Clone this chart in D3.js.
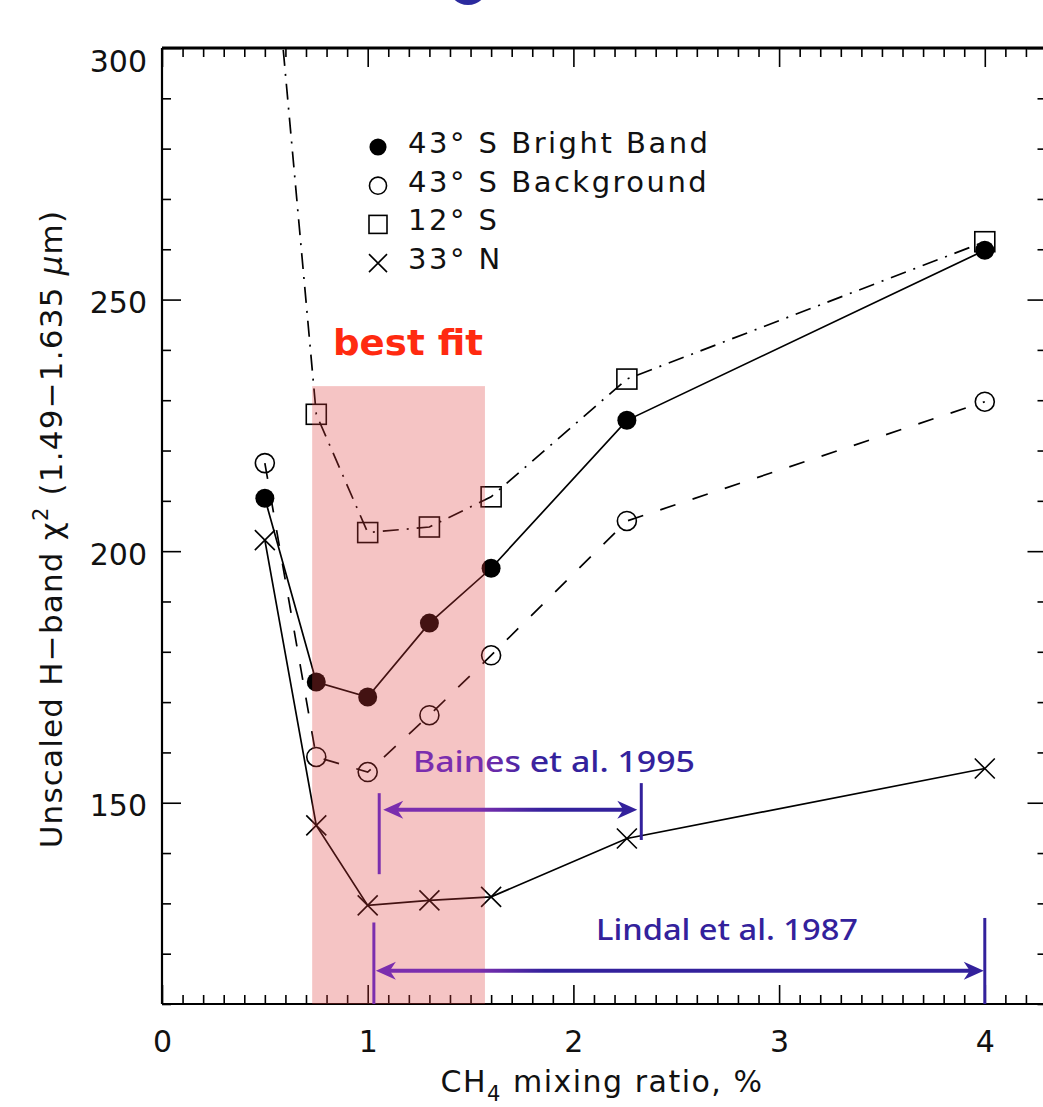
<!DOCTYPE html>
<html>
<head>
<meta charset="utf-8">
<script src="https://cdn.jsdelivr.net/npm/d3@7"></script>
<style>
  body { margin: 0; background: #fff; }
  svg { display: block; }
</style>
</head>
<body>
<div id="chart-container"></div>
<script>
// Values
const mixingRatio = [0.5, 0.75, 1.0, 1.3, 1.6, 2.26, 4.0];
const brightBand  = [210.5, 174.0, 171.0, 185.7, 196.6, 226.0, 259.8];
const background  = [217.5, 159.1, 156.1, 167.4, 179.3, 206.0, 229.7];
const south12     = [340.0, 227.2, 203.7, 204.8, 210.8, 234.2, 261.5];
const north33     = [202.2, 145.5, 129.6, 130.6, 131.3, 142.9, 156.8];

const seriesNames = ["43° S Bright Band", "43° S Background", "12° S", "33° N"];
const xTickLabels = [0, 1, 2, 3, 4];
const yTickLabels = [150, 200, 250, 300];

// best fit band and literature ranges
const bestFitRange = [0.73, 1.57];
const bestFitTop = 232.8;
const bainesRange = [1.056, 2.33];
const bainesArrowY = 148.6;
const bainesBars = [[151.9, 135.8], [153.9, 142.6]];
const lindalRange = [1.03, 4.0];
const lindalArrowY = 116.6;
const lindalBars = [[126.2, 110], [127.1, 110]];

const width = 1043;
const height = 1107;
const plot = { left: 162, right: 1046.5, top: 48, bottom: 1004 };

const svg = d3.select("#chart-container")
    .append("svg")
    .attr("width", width)
    .attr("height", height);

const x = d3.scaleLinear().domain([0, 4.3]).range([plot.left, plot.right]);
const y = d3.scaleLinear().domain([110, 300]).range([plot.bottom, plot.top]);

const tickFont = "DejaVu Sans, Open Sans, sans-serif";

// gradient used by the literature annotations (purple -> blue)
const defs = svg.append("defs");
const grad = defs.append("linearGradient")
    .attr("id", "refGrad")
    .attr("gradientUnits", "userSpaceOnUse")
    .attr("x1", 478).attr("y1", 0).attr("x2", 545).attr("y2", 0);
grad.append("stop").attr("offset", 0).attr("stop-color", "#7b2eae");
grad.append("stop").attr("offset", 1).attr("stop-color", "#33219c");

defs.append("clipPath").attr("id", "plotClip")
    .append("rect")
    .attr("x", plot.left).attr("y", plot.top)
    .attr("width", plot.right - plot.left)
    .attr("height", plot.bottom - plot.top);

// ---- axes (ticks point inward on all four sides) ----
const xMinor = d3.range(0, 44).map(i => i / 10).filter(v => Math.abs(v - Math.round(v)) > 1e-6);
const yMinor = d3.range(110, 301, 10).filter(v => v % 50 !== 0);

function addAxis(axisFn, scale, values, size, transform, withLabels) {
    const g = svg.append("g")
        .attr("transform", transform)
        .call(axisFn(scale)
            .tickValues(values)
            .tickSizeInner(-size)
            .tickSizeOuter(0)
            .tickPadding(axisFn === d3.axisBottom ? 27 : 15)
            .tickFormat(withLabels ? d3.format("d") : () => ""));
    g.select(".domain").remove();
    g.selectAll(".tick line").attr("stroke", "#000").attr("stroke-width", 1.6);
    g.attr("font-family", tickFont).attr("font-size", 30);
    g.selectAll(".tick text").attr("fill", "#111");
    return g;
}

addAxis(d3.axisBottom, x, xTickLabels, 19, `translate(0,${plot.bottom})`, true);
addAxis(d3.axisBottom, x, xMinor, 9, `translate(0,${plot.bottom})`, false);
addAxis(d3.axisTop, x, xTickLabels, 19, `translate(0,${plot.top})`, false);
addAxis(d3.axisTop, x, xMinor, 9, `translate(0,${plot.top})`, false);

const yAxisG = addAxis(d3.axisLeft, y, yTickLabels, 19, `translate(${plot.left},0)`, true);
yAxisG.selectAll(".tick text")
    .attr("dy", d => d === 300 ? "0.78em" : "0.43em");
addAxis(d3.axisLeft, y, yMinor, 9, `translate(${plot.left},0)`, false);
addAxis(d3.axisRight, y, yTickLabels, 19, `translate(${plot.right},0)`, false);
addAxis(d3.axisRight, y, yMinor, 9, `translate(${plot.right},0)`, false);

// frame
svg.append("line").attr("x1", plot.left).attr("x2", plot.right)
    .attr("y1", plot.top).attr("y2", plot.top)
    .attr("stroke", "#000").attr("stroke-width", 3);
svg.append("line").attr("x1", plot.left).attr("x2", plot.right)
    .attr("y1", plot.bottom).attr("y2", plot.bottom)
    .attr("stroke", "#000").attr("stroke-width", 2.2);
svg.append("line").attr("x1", plot.left).attr("x2", plot.left)
    .attr("y1", plot.top).attr("y2", plot.bottom)
    .attr("stroke", "#000").attr("stroke-width", 2.2);

// axis titles
const xTitle = svg.append("text")
    .attr("x", 602).attr("y", 1092)
    .attr("text-anchor", "middle")
    .attr("font-family", tickFont).attr("font-size", 30)
    .attr("letter-spacing", 1.5)
    .attr("fill", "#111");
xTitle.append("tspan").text("CH");
xTitle.append("tspan").attr("font-size", 21).attr("dy", 9).text("4");
xTitle.append("tspan").attr("dy", -9).text(" mixing ratio, %");

const yTitle = svg.append("text")
    .attr("transform", "translate(62,529) rotate(-90)")
    .attr("text-anchor", "middle")
    .attr("font-family", tickFont).attr("font-size", 31)
    .attr("letter-spacing", 1.2)
    .attr("fill", "#111");
yTitle.append("tspan").text("Unscaled H\u2212band \u03C7");
yTitle.append("tspan").attr("font-size", 21).attr("dy", -14).text("2");
yTitle.append("tspan").attr("dy", 14).text(" (1.49\u22121.635 ");
yTitle.append("tspan").attr("font-style", "italic").text("\u03BC");
yTitle.append("tspan").text("m)");

// ---- series ----
const series = [
    { name: seriesNames[0], values: brightBand, dash: null, marker: "filled" },
    { name: seriesNames[1], values: background, dash: "16,18", marker: "open" },
    { name: seriesNames[2], values: south12, dash: "16,8,2,8", marker: "square" },
    { name: seriesNames[3], values: north33, dash: null, marker: "cross" }
];

const line = d3.line()
    .x(d => x(d[0]))
    .y(d => y(d[1]));

const plotG = svg.append("g").attr("clip-path", "url(#plotClip)");

function drawMarker(g, type, cx, cy, s) {
    if (type === "filled") {
        g.append("circle").attr("cx", cx).attr("cy", cy).attr("r", s * 0.95).attr("fill", "#000");
    } else if (type === "open") {
        g.append("circle").attr("cx", cx).attr("cy", cy).attr("r", s * 0.95)
            .attr("fill", "none").attr("stroke", "#000").attr("stroke-width", 1.6);
    } else if (type === "square") {
        g.append("rect").attr("x", cx - s).attr("y", cy - s)
            .attr("width", 2 * s).attr("height", 2 * s)
            .attr("fill", "none").attr("stroke", "#000").attr("stroke-width", 1.6);
    } else {
        const p = d3.path();
        p.moveTo(cx - s, cy - s); p.lineTo(cx + s, cy + s);
        p.moveTo(cx - s, cy + s); p.lineTo(cx + s, cy - s);
        g.append("path").attr("d", p.toString())
            .attr("fill", "none").attr("stroke", "#000").attr("stroke-width", 1.6);
    }
}

series.forEach(s => {
    const pts = mixingRatio.map((m, i) => [m, s.values[i]]);
    plotG.append("path")
        .datum(pts)
        .attr("d", line)
        .attr("fill", "none")
        .attr("stroke", "#000")
        .attr("stroke-width", 1.7)
        .attr("stroke-dasharray", s.dash);
    pts.filter(p => p[1] <= 300).forEach(p => {
        drawMarker(plotG, s.marker, x(p[0]), y(p[1]), 10);
    });
});

// best fit shaded band, laid over the lines (darkens them to red)
svg.append("rect")
    .attr("x", x(bestFitRange[0]))
    .attr("y", y(bestFitTop))
    .attr("width", x(bestFitRange[1]) - x(bestFitRange[0]))
    .attr("height", y(110) - y(bestFitTop))
    .attr("fill", "rgb(222,60,60)")
    .attr("opacity", 0.3);

svg.append("text")
    .attr("x", 333).attr("y", 355)
    .attr("font-family", "DejaVu Sans, sans-serif")
    .attr("font-weight", "bold")
    .attr("font-size", 36)
    .attr("textLength", 150)
    .attr("lengthAdjust", "spacingAndGlyphs")
    .attr("fill", "#ff2a10")
    .text("best fit");

// ---- literature ranges ----
function arrowHead(tipX, ty, dir) {
    const L = 20, w = 9, n = 6;
    const p = d3.path();
    p.moveTo(tipX, ty);
    p.lineTo(tipX - dir * L, ty - w);
    p.lineTo(tipX - dir * (L - n), ty);
    p.lineTo(tipX - dir * L, ty + w);
    p.closePath();
    return p.toString();
}

function rangeArrow(range, arrowY, bars, leftGap, rightGap) {
    const g = svg.append("g");
    const x0 = x(range[0]) + leftGap;
    const x1 = x(range[1]) - rightGap;
    const yy = y(arrowY);
    g.append("line")
        .attr("x1", x0 + 10).attr("x2", x1 - 10)
        .attr("y1", yy).attr("y2", yy)
        .attr("stroke", "url(#refGrad)").attr("stroke-width", 4);
    g.append("path").attr("d", arrowHead(x0, yy, -1)).attr("fill", "url(#refGrad)");
    g.append("path").attr("d", arrowHead(x1, yy, 1)).attr("fill", "url(#refGrad)");
    range.forEach((r, i) => {
        g.append("line")
            .attr("x1", x(r)).attr("x2", x(r))
            .attr("y1", y(bars[i][0])).attr("y2", y(bars[i][1]))
            .attr("stroke", "url(#refGrad)").attr("stroke-width", 3);
    });
}

rangeArrow(bainesRange, bainesArrowY, bainesBars, 4, 4);
rangeArrow(lindalRange, lindalArrowY, lindalBars, 2, 1);

const annotFont = "Noto Sans, DejaVu Sans, sans-serif";
svg.append("text")
    .attr("x", 413).attr("y", 772)
    .attr("font-family", annotFont).attr("font-weight", 500)
    .attr("font-size", 29)
    .attr("textLength", 282).attr("lengthAdjust", "spacingAndGlyphs")
    .attr("fill", "url(#refGrad)")
    .text("Baines et al. 1995");

svg.append("text")
    .attr("x", 596).attr("y", 940)
    .attr("font-family", annotFont).attr("font-weight", 500)
    .attr("font-size", 29)
    .attr("textLength", 262).attr("lengthAdjust", "spacingAndGlyphs")
    .attr("fill", "#33219c")
    .text("Lindal et al. 1987");

// ---- legend ----
const legend = svg.append("g").attr("transform", "translate(378,153)");
series.forEach((s, i) => {
    const row = legend.append("g").attr("transform", `translate(0,${i * 38.7})`);
    drawMarker(row, s.marker, 0, -6, 9);
    row.append("text")
        .attr("x", 30).attr("y", 0)
        .attr("font-family", tickFont).attr("font-size", 29)
        .attr("letter-spacing", 2.5)
        .attr("fill", "#111")
        .text(s.name);
});

// fragment of the cropped title above the frame
svg.append("circle")
    .attr("cx", 468).attr("cy", -15).attr("r", 20)
    .attr("fill", "#2b2a9e");
</script>
</body>
</html>
